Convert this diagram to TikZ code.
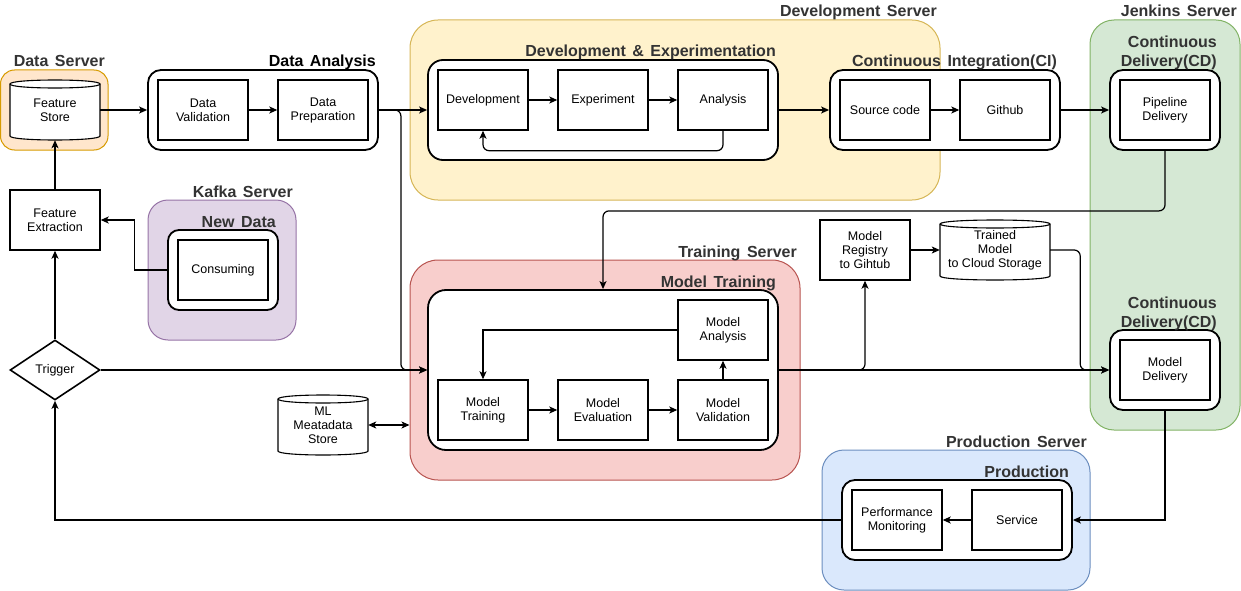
\documentclass[tikz,border=0pt]{standalone}
\usepackage{fontspec}
\setmainfont{Liberation Sans}
\usetikzlibrary{arrows.meta,shapes.geometric,fit,calc}
\definecolor{lblgray}{HTML}{333333}
\definecolor{orfill}{HTML}{FFE6CC}\definecolor{ordraw}{HTML}{D79B00}
\definecolor{pufill}{HTML}{E1D5E7}\definecolor{pudraw}{HTML}{9673A6}
\definecolor{yefill}{HTML}{FFF2CC}\definecolor{yedraw}{HTML}{D6B656}
\definecolor{refill}{HTML}{F8CECC}\definecolor{redraw}{HTML}{B85450}
\definecolor{grfill}{HTML}{D5E8D4}\definecolor{grdraw}{HTML}{82B366}
\definecolor{blfill}{HTML}{DAE8FC}\definecolor{bldraw}{HTML}{6C8EBF}
\newcommand{\boxfont}{\fontsize{12.5}{14}\selectfont}
\newcommand{\lblfont}{\fontsize{16}{18}\selectfont\bfseries}
\newcommand{\ws}{\hspace{6.5pt}}
% cylinder outline: x0 y0 x1 y1
\newcommand{\cylshape}[4]{%
  \draw[line width=1.1pt, fill=white] (#1,#2+4) -- (#1,#4-4)
    .. controls (#1,#4+1.33) and (#3,#4+1.33) .. (#3,#4-4) -- (#3,#2+4)
    .. controls (#3,#2-1.33) and (#1,#2-1.33) .. (#1,#2+4) -- cycle;
  \draw[line width=1.1pt] (#1,#2+4) .. controls (#1,#2+9.33) and (#3,#2+9.33) .. (#3,#2+4);}
\begin{document}
\begin{tikzpicture}[x=1pt,y=-1pt,
  srv/.style={draw, line width=1pt, inner sep=0pt, rounded corners=22pt},
  grp/.style={draw, line width=1.8pt, fill=white, inner sep=0pt, rounded corners=13pt},
  box/.style={draw, line width=1.4pt, fill=white, inner sep=0pt, align=center, font=\boxfont,
              minimum width=90pt, minimum height=60pt},
  cyltext/.style={inner sep=0pt, align=center, font=\boxfont, minimum height=60pt},
  lbl/.style={anchor=base east, inner sep=0pt, font=\lblfont, text=lblgray},
  arr/.style={line width=1.2pt, -{Stealth[length=8pt,width=7pt,inset=2pt]}},
  darr/.style={line width=1.2pt, {Stealth[length=8pt,width=7pt,inset=2pt]}-{Stealth[length=8pt,width=7pt,inset=2pt]}},
  rc/.style={rounded corners=6pt}]
\useasboundingbox (0,0) rectangle (1241,591);

% ---- colored server containers
\node[srv, rounded corners=14pt, fill=orfill, draw=ordraw, fit={(0.5,70) (108,150)}] (dsrv) {};
\node[srv, rounded corners=20pt, fill=pufill, draw=pudraw, fit={(148,200) (296,340)}] (ksrv) {};
\node[srv, rounded corners=28pt, fill=yefill, draw=yedraw, fit={(410,20) (940,200)}] (devsrv) {};
\node[srv, rounded corners=28pt, fill=refill, draw=redraw, fit={(410,260) (800,480)}] (tsrv) {};
\node[srv, rounded corners=24pt, fill=grfill, draw=grdraw, fit={(1090,20) (1240,430)}] (jsrv) {};
\node[srv, rounded corners=22pt, fill=blfill, draw=bldraw, fit={(822,450) (1090,590)}] (psrv) {};

% ---- white group boxes
\node[grp, fit={(148,70) (378,150)}] (da) {};
\node[grp, rounded corners=11pt, fit={(168,230) (278,310)}] (nd) {};
\node[grp, rounded corners=15pt, fit={(428,60) (778,160)}] (devexp) {};
\node[grp, fit={(830,70) (1060,150)}] (ci) {};
\node[grp, fit={(1110,70) (1220,150)}] (cd1) {};
\node[grp, fit={(1110,330) (1220,410)}] (cd2) {};
\node[grp, rounded corners=18pt, fit={(428,290) (778,450)}] (mtg) {};
\node[grp, fit={(842,480) (1072,560)}] (prod) {};

% ---- labels
\node[lbl] (l1) at (105,67) {Data\ws Server};
\node[lbl, text=black] (l2) at (376,67) {Data\ws Analysis};
\node[lbl] (l3) at (293,197) {Kafka\ws Server};
\node[lbl] (l4) at (276,227) {New\ws Data};
\node[lbl] (l5) at (937,17) {Development\ws Server};
\node[lbl] (l6) at (776,57) {Development\ws\&\ws Experimentation};
\node[lbl] (l7) at (1057,67) {Continuous\ws Integration(CI)};
\node[lbl] (l8) at (1237,17) {Jenkins\ws Server};
\node[lbl] (l9) at (1217,48) {Continuous};
\node[lbl] (l10) at (1217,67) {Delivery(CD)};
\node[lbl] (l11) at (797,257) {Training\ws Server};
\node[lbl] (l12) at (776,287) {Model\ws Training};
\node[lbl] (l13) at (1217,308) {Continuous};
\node[lbl] (l14) at (1217,327) {Delivery(CD)};
\node[lbl] (l15) at (1087,447) {Production\ws Server};
\node[lbl] (l16) at (1069,477) {Production};

% ---- inner boxes
\node[box] (dv) at (203,110) {Data\\Validation};
\node[box] (dp) at (323,110) {Data\\Preparation};
\node[box] (fe) at (55,220) {Feature\\Extraction};
\node[box] (cons) at (223,270) {Consuming};
\node[box] (dev) at (483,100) {Development};
\node[box] (exp) at (603,100) {Experiment};
\node[box] (ana) at (723,100) {Analysis};
\node[box] (src) at (885,110) {Source code};
\node[box] (gh) at (1005,110) {Github};
\node[box] (pd) at (1165,110) {Pipeline\\Delivery};
\node[box] (md) at (1165,370) {Model\\Delivery};
\node[box] (man) at (723,330) {Model\\Analysis};
\node[box] (mtr) at (483,410) {Model\\Training};
\node[box] (mev) at (603,410) {Model\\Evaluation};
\node[box] (mval) at (723,410) {Model\\Validation};
\node[box] (reg) at (865,250) {Model\\Registry\\to Gihtub};
\node[box] (pm) at (897,520) {Performance\\Monitoring};
\node[box] (svc) at (1017,520) {Service};
\node[diamond, draw, line width=1.6pt, fill=white, aspect=1.5, inner sep=0pt,
      minimum width=90pt, minimum height=60pt, font=\boxfont] (trig) at (55,370) {Trigger};

% ---- cylinders
\cylshape{10}{80}{100}{140}
\node[cyltext, minimum width=90pt] (fs) at (55,110) {Feature\\Store};
\cylshape{940}{220}{1050}{280}
\node[cyltext, minimum width=110pt] (tm) at (995,250) {Trained\\Model\\to Cloud Storage};
\cylshape{278}{395}{368}{455}
\node[cyltext, minimum width=90pt] (ml) at (323,425) {ML\\Meatadata\\Store};

% ---- connectors
\draw[arr] (fs.east) -- (da.west);
\draw[arr] (dv.east) -- (dp.west);
\draw[arr] (da.east) -- (devexp.west);
\draw[arr, rc] (da.east) -- ++(22,0) |- (mtg.west);
\draw[arr] (trig.east) -- (mtg.west);
\draw[arr] (fe.north) -- (fs.south);
\draw[arr] (trig.north) -- (fe.south);
\draw[arr] (nd.west) -- ++(-33,0) |- (fe.east);
\draw[arr] (dev.east) -- (exp.west);
\draw[arr] (exp.east) -- (ana.west);
\draw[arr, rc] (ana.south) -- ++(0,20) -| (dev.south);
\draw[arr] (devexp.east) -- (ci.west);
\draw[arr] (src.east) -- (gh.west);
\draw[arr] (ci.east) -- (cd1.west);
\draw[arr, rc] (cd1.south) -- ++(0,60) -| (mtg.north);
\draw[arr] (mtr.east) -- (mev.west);
\draw[arr] (mev.east) -- (mval.west);
\draw[arr] (mval.north) -- (man.south);
\draw[arr] (man.west) -| (mtr.north);
\draw[arr, rc] (mtg.east) -| (reg.south);
\draw[arr] (mtg.east) -- (cd2.west);
\draw[arr] (reg.east) -- (tm.west);
\draw[arr, rc] (tm.east) -- ++(30,0) |- (cd2.west);
\draw[arr] (cd2.south) |- (prod.east);
\draw[arr] (svc.west) -- (pm.east);
\draw[arr] (prod.west) -| (trig.south);
\draw[darr] (ml.east) -- (ml.east -| tsrv.west);
\end{tikzpicture}
\end{document}
